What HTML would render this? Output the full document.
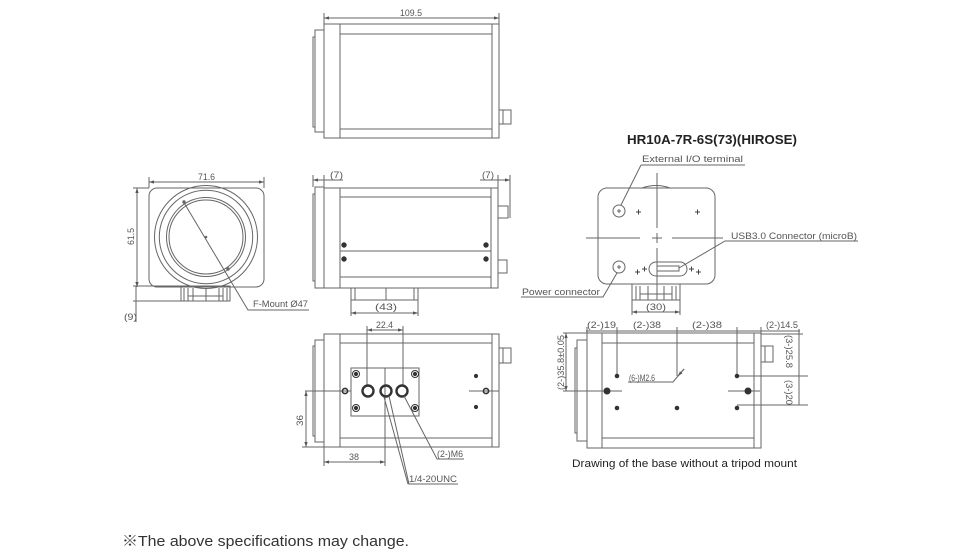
<!DOCTYPE html>
<html><head><meta charset="utf-8"><style>
html,body{margin:0;padding:0;background:#fff;width:960px;height:558px;overflow:hidden}
svg{display:block}
.t{font-family:"Liberation Sans",Arial,sans-serif;font-size:9.5px;fill:#555;stroke:none}
</style></head><body>
<svg width="960" height="558" viewBox="0 0 960 558" xmlns="http://www.w3.org/2000/svg">
<defs>
<marker id="a" viewBox="0 0 6 6" refX="6" refY="3" markerWidth="5" markerHeight="5" orient="auto-start-reverse" markerUnits="userSpaceOnUse"><path d="M0,1 L6,3 L0,5 z" fill="#555"/></marker>
</defs>
<g fill="none" stroke="#666" stroke-width="1">

<!-- ===== TOP VIEW ===== -->
<rect x="315" y="30" width="9" height="102"/>
<path d="M315 37 H313 V127 H315"/>
<rect x="324" y="24" width="16" height="114"/>
<rect x="340" y="24" width="152" height="114"/>
<path d="M340 34 H492 M340 129 H492"/>
<rect x="492" y="24" width="7" height="114"/>
<rect x="499" y="110" width="12" height="14"/>
<path d="M503 110 V124"/>
<path d="M324 13 V24 M499 13 V24"/>
<path d="M324 18 H499" marker-start="url(#a)" marker-end="url(#a)"/>

<!-- ===== FRONT VIEW (left) ===== -->
<rect x="149" y="188" width="115" height="99" rx="8"/>
<circle cx="206" cy="237" r="51.5"/>
<circle cx="206" cy="237" r="46.7"/>
<circle cx="206" cy="237" r="39.5"/>
<circle cx="206" cy="237" r="37"/>
<circle cx="206" cy="237" r="0.8" fill="#666"/>
<path d="M149 177 V188 M264 177 V188"/>
<path d="M149 182 H264" marker-start="url(#a)" marker-end="url(#a)"/>
<path d="M133 188 H149 M133 286 H181"/>
<path d="M137 188 V287" marker-start="url(#a)" marker-end="url(#a)"/>
<path d="M136 286 V322 M133 301 H230"/>
<rect x="181" y="286" width="49" height="15"/>
<path d="M184 288 V301 M188 288 V301 M193 288 V301 M206 288 V301 M219 288 V301 M223 288 V301 M227 288 V301 M188 296 H223"/>
<path d="M183 201 L248 310 H309"/>
<circle cx="184" cy="202" r="1.2" fill="#666"/>
<circle cx="228" cy="269" r="1.2" fill="#666"/>

<!-- ===== SIDE VIEW (middle) ===== -->
<rect x="315" y="187" width="9" height="101"/>
<path d="M315 194 H313 V281 H315"/>
<rect x="324" y="188" width="16" height="100"/>
<rect x="340" y="188" width="151" height="100"/>
<path d="M340 197 H491 M340 251 H491 M340 277 H491"/>
<rect x="491" y="188" width="7" height="100"/>
<rect x="498" y="206" width="10" height="12"/>
<rect x="498" y="260" width="9" height="13"/>
<path d="M313 175 V187 M324 175 V188 M498 175 V188 M510 175 V218"/>
<path d="M313 180 H343" marker-start="url(#a)"/>
<path d="M324 180 H324"/>
<path d="M480 180 H510" marker-end="url(#a)"/>
<rect x="351" y="288" width="67" height="12"/>
<path d="M355 288 V300 M414 288 V300 M386 288 V300"/>
<path d="M351 300 V316 M418 300 V316"/>
<path d="M351 313 H418" marker-start="url(#a)" marker-end="url(#a)"/>
<g fill="#333" stroke="#333">
<circle cx="344" cy="245" r="2.2"/><circle cx="344" cy="259" r="2.2"/>
<circle cx="486" cy="245" r="2.2"/><circle cx="486" cy="259" r="2.2"/>
</g>

<!-- ===== REAR VIEW (right) ===== -->
<rect x="598" y="188" width="117" height="96" rx="9"/>
<path d="M642 188 Q656 183 670 188"/>
<path d="M657 173 V228 M657 233 V243 M657 248 V300"/>
<path d="M586 238 H640 M652 238 H662 M672 238 H723"/>
<circle cx="619" cy="211" r="6"/>
<circle cx="619" cy="267" r="6"/>
<path d="M617 211 H621 M619 209 V213 M617 267 H621 M619 265 V269"/>
<g stroke="#444">
<path d="M636 212 H641 M638.5 209.5 V214.5 M695 212 H700 M697.5 209.5 V214.5 M635 272 H640 M637.5 269.5 V274.5 M696 272 H701 M698.5 269.5 V274.5"/>
<path d="M642 269 H647 M644.5 266.5 V271.5 M689 269 H694 M691.5 266.5 V271.5"/>
</g>
<rect x="649" y="262" width="38" height="14" rx="7"/>
<rect x="657" y="266" width="22" height="5"/>
<path d="M641 165 H745"/>
<path d="M641 165 L621 205"/>
<path d="M679 268 L725 241 H858"/>
<path d="M521 297 H603 L617 273"/>
<rect x="632" y="284" width="48" height="16"/>
<path d="M636 286 V300 M640 286 V300 M648 286 V300 M664 286 V300 M672 286 V300 M676 286 V300 M640 294 H672"/>
<path d="M632 300 V315 M680 300 V315"/>
<path d="M632 312 H680" marker-start="url(#a)" marker-end="url(#a)"/>

<!-- ===== BOTTOM VIEW (middle) ===== -->
<rect x="315" y="340" width="9" height="102"/>
<path d="M315 346 H313 V436 H315"/>
<rect x="324" y="334" width="16" height="113"/>
<rect x="340" y="334" width="152" height="113"/>
<path d="M340 343 H492 M340 438 H492"/>
<rect x="492" y="334" width="7" height="113"/>
<rect x="499" y="348" width="12" height="15"/>
<path d="M503 348 V363"/>
<rect x="351" y="368" width="68" height="48"/>
<path d="M305 391 H351 M469 391 H499"/>
<path d="M367 326 V386 M403 326 V386"/>
<path d="M367 330 H403" marker-start="url(#a)" marker-end="url(#a)"/>
<path d="M385 368 V466"/>
<path d="M302 447 H324"/>
<path d="M306 391 V447" marker-start="url(#a)" marker-end="url(#a)"/>
<path d="M324 447 V466"/>
<path d="M324 462 H385" marker-start="url(#a)" marker-end="url(#a)"/>
<g stroke="#333">
<circle cx="368" cy="391" r="5.5" stroke-width="2.4"/>
<circle cx="386" cy="391" r="5.5" stroke-width="2.4"/>
<circle cx="402" cy="391" r="5.5" stroke-width="2.4"/>
<circle cx="356" cy="374" r="3.5"/><circle cx="415" cy="374" r="3.5"/>
<circle cx="356" cy="408" r="3.5"/><circle cx="415" cy="408" r="3.5"/>
<circle cx="356" cy="374" r="1.6" fill="#333"/><circle cx="415" cy="374" r="1.6" fill="#333"/>
<circle cx="356" cy="408" r="1.6" fill="#333"/><circle cx="415" cy="408" r="1.6" fill="#333"/>
<circle cx="345" cy="391" r="2.6" stroke-width="1.6"/>
<circle cx="486" cy="391" r="2.6" stroke-width="1.6"/>
<circle cx="476" cy="376" r="1.6" fill="#333"/>
<circle cx="476" cy="407" r="1.6" fill="#333"/>
</g>
<path d="M404 396 L437 459 H464"/>
<path d="M384 397 L408 484 M389 396 L409 484 H458"/>

<!-- ===== BOTTOM VIEW (right, no tripod) ===== -->
<rect x="577" y="340" width="10" height="101"/>
<path d="M577 348 H575 V433 H577"/>
<rect x="587" y="333" width="15" height="115"/>
<rect x="602" y="333" width="152" height="115"/>
<path d="M602 343 H754 M602 438 H754"/>
<rect x="754" y="333" width="7" height="115"/>
<rect x="761" y="346" width="12" height="16"/>
<path d="M765 346 V362"/>
<path d="M586 331 H800"/>
<path d="M587 327 V333 M617 327 V376 M677 327 V376 M737 327 V376 M761 327 V333"/>
<path d="M590 391 H622 M728 391 H760"/>
<path d="M563 333 H587 M563 391 H590"/>
<path d="M566 333 V391" marker-start="url(#a)" marker-end="url(#a)"/>
<path d="M761 334 H803 M737 376 H808 M737 405 H808"/>
<path d="M799 329 V405"/>
<path d="M628 382 H673 L684 369"/>
<path d="M684 369 L678 376" marker-end="url(#a)"/>
<g fill="#333" stroke="#333">
<circle cx="617" cy="376" r="1.8"/><circle cx="617" cy="408" r="1.8"/>
<circle cx="677" cy="408" r="1.8"/><circle cx="737" cy="376" r="1.8"/>
<circle cx="737" cy="408" r="1.8"/>
<circle cx="607" cy="391" r="3"/><circle cx="748" cy="391" r="3"/>
</g>
</g>

<!-- ===== TEXT ===== -->
<text class="t" x="400" y="16" textLength="22" lengthAdjust="spacingAndGlyphs">109.5</text>
<text class="t" x="198" y="180" textLength="17" lengthAdjust="spacingAndGlyphs">71.6</text>
<text class="t" transform="translate(134,245) rotate(-90)" textLength="17" lengthAdjust="spacingAndGlyphs">61.5</text>
<text class="t" x="124" y="320" textLength="13" lengthAdjust="spacingAndGlyphs">(9)</text>
<text class="t" x="253" y="307" textLength="55" lengthAdjust="spacingAndGlyphs">F-Mount Ø47</text>
<text class="t" x="330" y="178" textLength="13" lengthAdjust="spacingAndGlyphs">(7)</text>
<text class="t" x="482" y="178" textLength="12" lengthAdjust="spacingAndGlyphs">(7)</text>
<text class="t" x="375" y="310" textLength="22" lengthAdjust="spacingAndGlyphs">(43)</text>
<text x="627" y="144" font-family="'Liberation Sans',Arial,sans-serif" font-size="13" font-weight="bold" fill="#222" textLength="170" lengthAdjust="spacingAndGlyphs">HR10A-7R-6S(73)(HIROSE)</text>
<text class="t" x="642" y="162" textLength="101" lengthAdjust="spacingAndGlyphs">External I/O terminal</text>
<text class="t" x="731" y="239" textLength="126" lengthAdjust="spacingAndGlyphs">USB3.0 Connector (microB)</text>
<text class="t" x="522" y="295" textLength="78" lengthAdjust="spacingAndGlyphs">Power connector</text>
<text class="t" x="646" y="310" textLength="20" lengthAdjust="spacingAndGlyphs">(30)</text>
<text class="t" x="376" y="328" textLength="17" lengthAdjust="spacingAndGlyphs">22.4</text>
<text class="t" transform="translate(303,426) rotate(-90)" textLength="11" lengthAdjust="spacingAndGlyphs">36</text>
<text class="t" x="349" y="460" textLength="10" lengthAdjust="spacingAndGlyphs">38</text>
<text class="t" x="437" y="457" textLength="26" lengthAdjust="spacingAndGlyphs">(2-)M6</text>
<text class="t" x="409" y="482" textLength="48" lengthAdjust="spacingAndGlyphs">1/4-20UNC</text>
<text class="t" x="587" y="328" textLength="29" lengthAdjust="spacingAndGlyphs">(2-)19</text>
<text class="t" x="633" y="328" textLength="28" lengthAdjust="spacingAndGlyphs">(2-)38</text>
<text class="t" x="692" y="328" textLength="30" lengthAdjust="spacingAndGlyphs">(2-)38</text>
<text class="t" x="766" y="328" textLength="32" lengthAdjust="spacingAndGlyphs">(2-)14.5</text>
<text class="t" x="629" y="381" textLength="26" lengthAdjust="spacingAndGlyphs">(6-)M2.6</text>
<text class="t" transform="translate(564,390) rotate(-90)" textLength="55" lengthAdjust="spacingAndGlyphs">(2-)35.8±0.05</text>
<text class="t" transform="translate(786,335) rotate(90)" textLength="33" lengthAdjust="spacingAndGlyphs">(3-)25.8</text>
<text class="t" transform="translate(786,380) rotate(90)" textLength="25" lengthAdjust="spacingAndGlyphs">(3-)20</text>
<text x="572" y="467" font-family="'Liberation Sans',Arial,sans-serif" font-size="11" fill="#222" textLength="225" lengthAdjust="spacingAndGlyphs">Drawing of the base without a tripod mount</text>
<text x="122" y="546" font-family="'Liberation Sans','Noto Sans CJK JP',sans-serif" font-size="14.5" fill="#333" textLength="287" lengthAdjust="spacingAndGlyphs">※The above specifications may change.</text>
</svg>
</body></html>
